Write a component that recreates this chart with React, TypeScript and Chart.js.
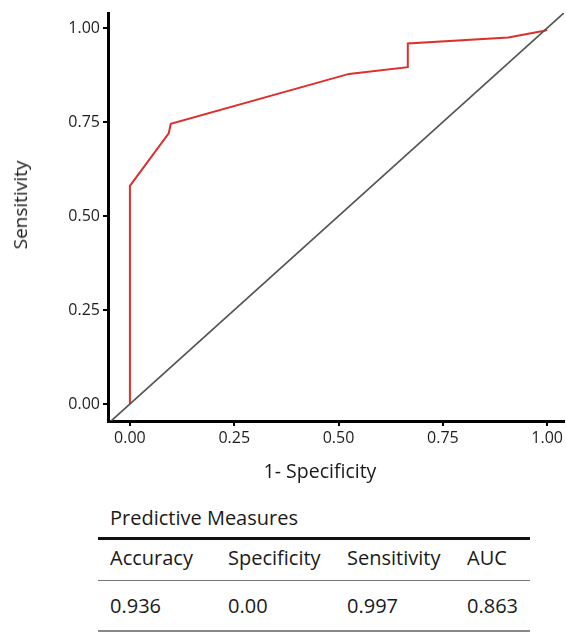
import React, { useEffect, useRef } from "react";
import { Chart, registerables } from "chart.js";

Chart.register(...registerables);

// ROC curve (1 - specificity vs sensitivity)
const rocFpr = [0, 0, 0.093, 0.098, 0.525, 0.666, 0.666, 0.907, 0.99, 1.0];
const rocTpr = [0, 0.58, 0.72, 0.745, 0.878, 0.896, 0.959, 0.975, 0.992, 0.995];

// chance diagonal
const diagX = [-0.08, 1.08];
const diagY = [-0.08, 1.08];

const tickValues = [0, 0.25, 0.5, 0.75, 1];

const measureNames = ["Accuracy", "Specificity", "Sensitivity", "AUC"];
const measureValues = ["0.936", "0.00", "0.997", "0.863"];
const measureColX = [110, 228, 347, 467];

const FONT = "'Open Sans', 'Noto Sans', sans-serif";

export default function App() {
  const canvasRef = useRef<HTMLCanvasElement>(null);

  useEffect(() => {
    const canvas = canvasRef.current;
    if (!canvas) return;
    const chart = new Chart(canvas, {
      type: "line",
      data: {
        datasets: [
          {
            label: "Reference",
            data: diagX.map((x, i) => ({ x, y: diagY[i] })),
            borderColor: "#555",
            borderWidth: 1.7,
            pointRadius: 0,
            tension: 0,
          },
          {
            label: "ROC",
            data: rocFpr.map((x, i) => ({ x, y: rocTpr[i] })),
            borderColor: "#dd2f2c",
            borderWidth: 2,
            pointRadius: 0,
            tension: 0,
          },
        ],
      },
      options: {
        responsive: false,
        animation: false,
        events: [],
        layout: { padding: { top: 13, right: 0, left: 0, bottom: 0 } },
        plugins: {
          legend: { display: false },
          tooltip: { enabled: false },
        },
        scales: {
          x: {
            type: "linear",
            min: -0.0525,
            max: 1.0406,
            afterFit: (scale: any) => {
              scale.height = 39;
            },
            afterBuildTicks: (scale: any) => {
              scale.ticks = tickValues.map((v) => ({ value: v }));
            },
            grid: {
              drawOnChartArea: false,
              drawTicks: true,
              tickLength: 5,
              color: "#000",
              lineWidth: 2,
            },
            border: { display: true, color: "#000", width: 3 },
            ticks: {
              padding: 3,
              color: "#1e1e1e",
              font: { family: FONT, size: 16 },
              maxRotation: 0,
              callback: (v: any) => Number(v).toFixed(2),
            },
          },
          y: {
            type: "linear",
            min: -0.0452,
            max: 1.04,
            afterFit: (scale: any) => {
              scale.width = 108;
            },
            afterBuildTicks: (scale: any) => {
              scale.ticks = tickValues.map((v) => ({ value: v }));
            },
            grid: {
              drawOnChartArea: false,
              drawTicks: true,
              tickLength: 5,
              color: "#000",
              lineWidth: 2,
            },
            border: { display: true, color: "#000", width: 3 },
            ticks: {
              padding: 3,
              color: "#1e1e1e",
              font: { family: FONT, size: 16 },
              callback: (v: any) => Number(v).toFixed(2),
            },
          },
        },
      },
    });
    return () => chart.destroy();
  }, []);

  const textBase: React.CSSProperties = {
    position: "absolute",
    fontFamily: FONT,
    color: "#1a1a1a",
    whiteSpace: "nowrap",
  };

  return (
    <div
      style={{
        position: "absolute",
        left: 0,
        top: 0,
        width: 566,
        height: 632,
        overflow: "hidden",
        background: "#fff",
      }}
    >
      <canvas
        ref={canvasRef}
        width={566}
        height={460}
        style={{ position: "absolute", left: 0, top: 0, width: 566, height: 460 }}
      />
      {/* axis titles */}
      <div
        style={{
          ...textBase,
          fontSize: 19,
          lineHeight: "24px",
          left: 20,
          top: 205,
          transform: "translate(-50%, -50%) rotate(-90deg)",
        }}
      >
        Sensitivity
      </div>
      <div
        style={{
          ...textBase,
          fontSize: 19.5,
          lineHeight: "24px",
          left: 320,
          top: 471,
          transform: "translate(-50%, -50%)",
        }}
      >
        1- Specificity
      </div>

      {/* predictive measures table */}
      <div style={{ ...textBase, fontSize: 20, lineHeight: "24px", left: 110, top: 519 - 13 }}>
        Predictive Measures
      </div>
      <div
        style={{
          position: "absolute",
          left: 98,
          top: 537,
          width: 432,
          height: 2.5,
          background: "#111",
        }}
      />
      {measureNames.map((n, i) => (
        <div
          key={"h" + i}
          style={{ ...textBase, fontSize: 20, lineHeight: "24px", left: measureColX[i], top: 559 - 13 }}
        >
          {n}
        </div>
      ))}
      <div
        style={{
          position: "absolute",
          left: 98,
          top: 579.5,
          width: 432,
          height: 1.5,
          background: "#777",
        }}
      />
      {measureValues.map((v, i) => (
        <div
          key={"v" + i}
          style={{ ...textBase, fontSize: 20, lineHeight: "24px", left: measureColX[i], top: 607 - 13 }}
        >
          {v}
        </div>
      ))}
      <div
        style={{
          position: "absolute",
          left: 98,
          top: 630,
          width: 432,
          height: 1.5,
          background: "#888",
        }}
      />
    </div>
  );
}
